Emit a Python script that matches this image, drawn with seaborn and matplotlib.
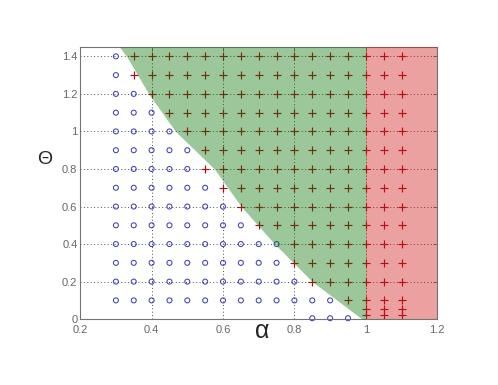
import numpy as np
import pandas as pd
import matplotlib
matplotlib.use("Agg")
import matplotlib.pyplot as plt
import seaborn as sns

# ---- data ----
alpha_grid = [0.30, 0.35, 0.40, 0.45, 0.50, 0.55, 0.60, 0.65, 0.70, 0.75,
              0.80, 0.85, 0.90, 0.95, 1.00, 1.05, 1.10]
theta_rows = [1.4, 1.3, 1.2, 1.1, 1.0, 0.9, 0.8, 0.7, 0.6, 0.5, 0.4, 0.3, 0.2, 0.1]
# smallest alpha in each theta row that is marked with "+"
first_plus_alpha = [0.35, 0.35, 0.40, 0.45, 0.50, 0.55, 0.55, 0.60, 0.65, 0.70,
                    0.80, 0.80, 0.85, 0.95]
extra_plus_alpha = [1.00, 1.05, 1.10, 1.00, 1.05, 1.10]
extra_plus_theta = [0.055, 0.055, 0.055, 0.022, 0.022, 0.022]
extra_circle_alpha = [0.85, 0.90, 0.95]
extra_circle_theta = [0.005, 0.005, 0.005]

boundary_theta = [1.45, 1.4, 1.2, 1.0, 0.8, 0.6, 0.4, 0.2, 0.0]
boundary_alpha = [0.31, 0.33, 0.392, 0.467, 0.576, 0.651, 0.745, 0.850, 0.99]

x_ticks = [0.2, 0.4, 0.6, 0.8, 1.0, 1.2]
x_ticklabels = ["0.2", "0.4", "0.6", "0.8", "1", "1.2"]
y_ticks = [0, 0.2, 0.4, 0.6, 0.8, 1.0, 1.2, 1.4]
y_ticklabels = ["0", "0.2", "0.4", "0.6", "0.8", "1", "1.2", "1.4"]

# ---- build point table ----
rows = []
for th, thr in zip(theta_rows, first_plus_alpha):
    for a in alpha_grid:
        rows.append((a, th, "plus" if a >= thr - 1e-9 else "circle"))
for a, th in zip(extra_plus_alpha, extra_plus_theta):
    rows.append((a, th, "plus"))
for a, th in zip(extra_circle_alpha, extra_circle_theta):
    rows.append((a, th, "circle"))
df = pd.DataFrame(rows, columns=["alpha", "theta", "kind"])

sns.set_style("white")
plt.rcParams["font.family"] = ["Liberation Sans", "DejaVu Sans"]

fig = plt.figure(figsize=(4.98, 3.85), dpi=100)
ax = fig.add_axes([0.161, 0.171, 0.717, 0.707])

circ = df[df.kind == "circle"]
plus = df[df.kind == "plus"]
sns.scatterplot(data=circ, x="alpha", y="theta", ax=ax, marker="o", s=13,
                facecolors="none", edgecolor=(0.25, 0.25, 0.72), linewidth=0.75,
                zorder=2, clip_on=False, legend=False)
sns.scatterplot(data=plus, x="alpha", y="theta", ax=ax, marker="+", s=28,
                color=(0.68, 0.04, 0.08), linewidth=0.85, zorder=2, legend=False)

# shaded regions drawn on top with transparency
ax.fill_betweenx(boundary_theta, boundary_alpha, 1.0, color=(0.02, 0.45, 0.02),
                 alpha=0.4, lw=0, zorder=3)
ax.axvspan(1.0, 1.2, color=(0.82, 0.08, 0.08), alpha=0.4, lw=0, zorder=3)

ax.set_xlim(0.2, 1.2)
ax.set_ylim(0, 1.45)
ax.set_xticks(x_ticks)
ax.set_xticklabels(x_ticklabels)
ax.set_yticks(y_ticks)
ax.set_yticklabels(y_ticklabels)
ax.grid(True, linestyle=(0, (1, 2.5)), color="0.3", linewidth=0.7, zorder=1)
ax.set_axisbelow(True)
ax.tick_params(direction="in", length=3, width=0.6, colors="0.35",
               labelsize=8, top=True, right=True, pad=2, labelcolor="0.4")
ax.tick_params(axis="x", pad=4)
for sp in ax.spines.values():
    sp.set_color("0.45")
    sp.set_linewidth(0.8)

ax.set_xlabel("α", fontsize=18, va="center")
ax.xaxis.set_label_coords(0.51, -0.045)
ax.set_ylabel("Θ", fontsize=14, rotation=0, va="center", ha="center")
ax.yaxis.set_label_coords(-0.098, 0.585)

fig.savefig("out.png", dpi=100, facecolor="white")
